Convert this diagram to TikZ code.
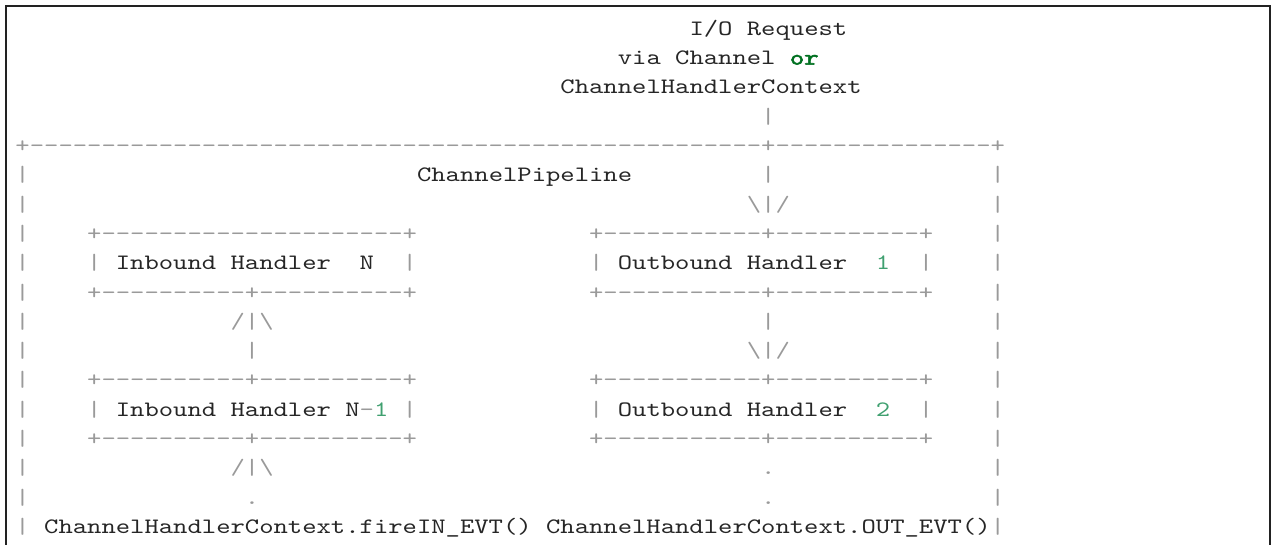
\documentclass[tikz,border=0pt]{standalone}
\usepackage{fontspec}
\usepackage{xcolor}
\newfontfamily\asc[FakeStretch=1.2416]{lmmono10-regular.otf}
\newfontfamily\ascb[FakeStretch=1.2416,FakeBold=2.5]{lmmono10-regular.otf}
\definecolor{txtc}{HTML}{262626}
\definecolor{opc}{HTML}{9A9A9A}
\definecolor{numc}{HTML}{40A070}
\definecolor{kwc}{HTML}{007020}
\definecolor{framec}{HTML}{222222}
\newlength\cw
\setlength\cw{14.3412pt}
\newcount\dcnt
\newcommand\gy[1]{\textcolor{opc}{#1}}
\newcommand\numc[1]{\textcolor{numc}{#1}}
\newcommand\kwd[1]{{\ascb\fontsize{22pt}{22pt}\selectfont\textcolor{kwc}{#1}}}
\newcommand\dsh[1]{{\color{opc}\dcnt=#1\relax\loop\ifnum\dcnt>0 -\kern0pt\advance\dcnt by -1\relax\repeat}}
\newcommand\skc[1]{\hspace*{#1\cw}}
\newcommand\bsl{\textbackslash}
\tikzset{
  lnx/.style={anchor=base west, inner sep=0pt, outer sep=0pt, text=txtc,
    font=\asc\fontsize{22pt}{22pt}\selectfont},
  framel/.style={draw=framec, line width=1.5pt}
}
\begin{document}
\begin{tikzpicture}[x=1pt,y=-1pt]
\useasboundingbox (0,0) rectangle (1273,544);
\coordinate (fa) at (6,548);
\coordinate (fb) at (6,6);
\coordinate (fc) at (1270,6);
\coordinate (fd) at (1270,548);
\draw[framel] (fa) -- (fb) -- (fc) -- (fd);
\def\xo{15.5}
\node[lnx] (l1) at (\xo,{35.3+29.3*0}) {\skc{47}I/O\skc{1}Request};
\node[lnx] (l2) at (\xo,{35.3+29.3*1}) {\skc{42}via\skc{1}Channel\skc{1}\kwd{or}};
\node[lnx] (l3) at (\xo,{35.3+29.3*2}) {\skc{38}ChannelHandlerContext};
\node[lnx] (l4) at (\xo,{35.3+29.3*3}) {\skc{52}\gy{|}};
\node[lnx] (l5) at (\xo,{35.3+29.3*4}) {\gy{+}\dsh{51}\gy{+}\dsh{15}\gy{+}};
\node[lnx] (l6) at (\xo,{35.3+29.3*5}) {\gy{|}\skc{27}ChannelPipeline\skc{9}\gy{|}\skc{15}\gy{|}};
\node[lnx] (l7) at (\xo,{35.3+29.3*6}) {\gy{|}\skc{50}\gy{\bsl|/}\skc{14}\gy{|}};
\node[lnx] (l8) at (\xo,{35.3+29.3*7}) {\gy{|}\skc{4}\gy{+}\dsh{21}\gy{+}\skc{12}\gy{+}\dsh{11}\gy{+}\dsh{10}\gy{+}\skc{4}\gy{|}};
\node[lnx] (l9) at (\xo,{35.3+29.3*8}) {\gy{|}\skc{4}\gy{|}\skc{1}Inbound\skc{1}Handler\skc{2}N\skc{2}\gy{|}\skc{12}\gy{|}\skc{1}Outbound\skc{1}Handler\skc{2}\numc{1}\skc{2}\gy{|}\skc{4}\gy{|}};
\node[lnx] (l10) at (\xo,{35.3+29.3*9}) {\gy{|}\skc{4}\gy{+}\dsh{10}\gy{+}\dsh{10}\gy{+}\skc{12}\gy{+}\dsh{11}\gy{+}\dsh{10}\gy{+}\skc{4}\gy{|}};
\node[lnx] (l11) at (\xo,{35.3+29.3*10}) {\gy{|}\skc{14}\gy{/|\bsl}\skc{34}\gy{|}\skc{15}\gy{|}};
\node[lnx] (l12) at (\xo,{35.3+29.3*11}) {\gy{|}\skc{15}\gy{|}\skc{34}\gy{\bsl|/}\skc{14}\gy{|}};
\node[lnx] (l13) at (\xo,{35.3+29.3*12}) {\gy{|}\skc{4}\gy{+}\dsh{10}\gy{+}\dsh{10}\gy{+}\skc{12}\gy{+}\dsh{11}\gy{+}\dsh{10}\gy{+}\skc{4}\gy{|}};
\node[lnx] (l14) at (\xo,{35.3+29.3*13}) {\gy{|}\skc{4}\gy{|}\skc{1}Inbound\skc{1}Handler\skc{1}N\gy{-}\numc{1}\skc{1}\gy{|}\skc{12}\gy{|}\skc{1}Outbound\skc{1}Handler\skc{2}\numc{2}\skc{2}\gy{|}\skc{4}\gy{|}};
\node[lnx] (l15) at (\xo,{35.3+29.3*14}) {\gy{|}\skc{4}\gy{+}\dsh{10}\gy{+}\dsh{10}\gy{+}\skc{12}\gy{+}\dsh{11}\gy{+}\dsh{10}\gy{+}\skc{4}\gy{|}};
\node[lnx] (l16) at (\xo,{35.3+29.3*15}) {\gy{|}\skc{14}\gy{/|\bsl}\skc{34}\gy{.}\skc{15}\gy{|}};
\node[lnx] (l17) at (\xo,{35.3+29.3*16}) {\gy{|}\skc{15}\gy{.}\skc{35}\gy{.}\skc{15}\gy{|}};
\node[lnx] (l18) at (\xo,{35.3+29.3*17}) {\gy{|}\skc{1}ChannelHandlerContext.fireIN\_EVT()\skc{1}ChannelHandlerContext.OUT\_EVT()\gy{|}};
\end{tikzpicture}
\end{document}
